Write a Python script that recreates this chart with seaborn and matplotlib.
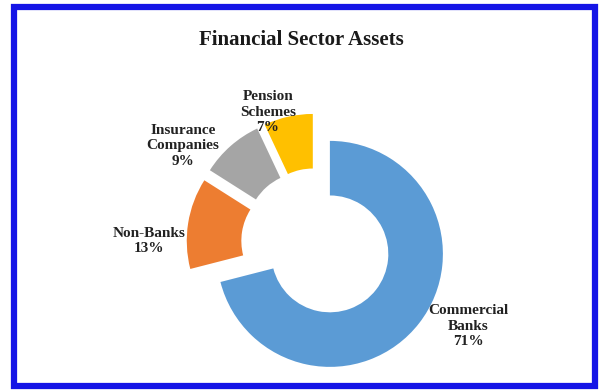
import matplotlib
matplotlib.use("Agg")
import matplotlib.pyplot as plt
import matplotlib.patches as mpatches
import seaborn as sns

sns.set_theme(style="white")
plt.rcParams["font.family"] = ["Liberation Serif", "DejaVu Serif"]

# Share of financial sector assets (%)
sectors = ["Commercial\nBanks", "Non-Banks", "Insurance\nCompanies", "Pension\nSchemes"]
shares = [71, 13, 9, 7]
explode_frac = [0.15, 0.15, 0.15, 0.15]
colors = ["#5B9BD5", "#ED7D31", "#A5A5A5", "#FFC000"]

W, H = 600, 391
fig = plt.figure(figsize=(W / 100, H / 100), dpi=100)
ax = fig.add_axes([0, 0, 1, 1])

cx, cy, R = 316.5, H - 243.5, 113
# pie offsets are in data units, so scale the fractions by the radius
wedges, _ = ax.pie(
    shares,
    colors=colors,
    explode=[f * R for f in explode_frac],
    startangle=90,
    counterclock=False,
    radius=R,
    center=(cx, cy),
    wedgeprops=dict(width=R * 0.483, linewidth=0),
    frame=True,
)
ax.set_xlim(0, W)
ax.set_ylim(0, H)
ax.set_aspect("equal")
ax.axis("off")

label_pos = [(468, H - 326), (149, H - 241), (183, H - 146), (268, H - 112)]
for name, val, (lx, ly) in zip(sectors, shares, label_pos):
    ax.text(lx, ly, f"{name}\n{val}%", ha="center", va="center",
            fontsize=11, fontweight="bold", color="#222222", linespacing=1.25)

ax.text(W / 2 + 1, H - 40, "Financial Sector Assets", ha="center", va="center",
        fontsize=15, fontweight="bold", color="#1a1a1a")

# Blue frame around the chart area
frame = mpatches.Rectangle((14, 5), 581, H - 12, fill=False,
                           edgecolor="#1414E6", linewidth=4.5,
                           transform=ax.transData, clip_on=False)
ax.add_patch(frame)

fig.savefig("out.png", dpi=100, facecolor="white")
